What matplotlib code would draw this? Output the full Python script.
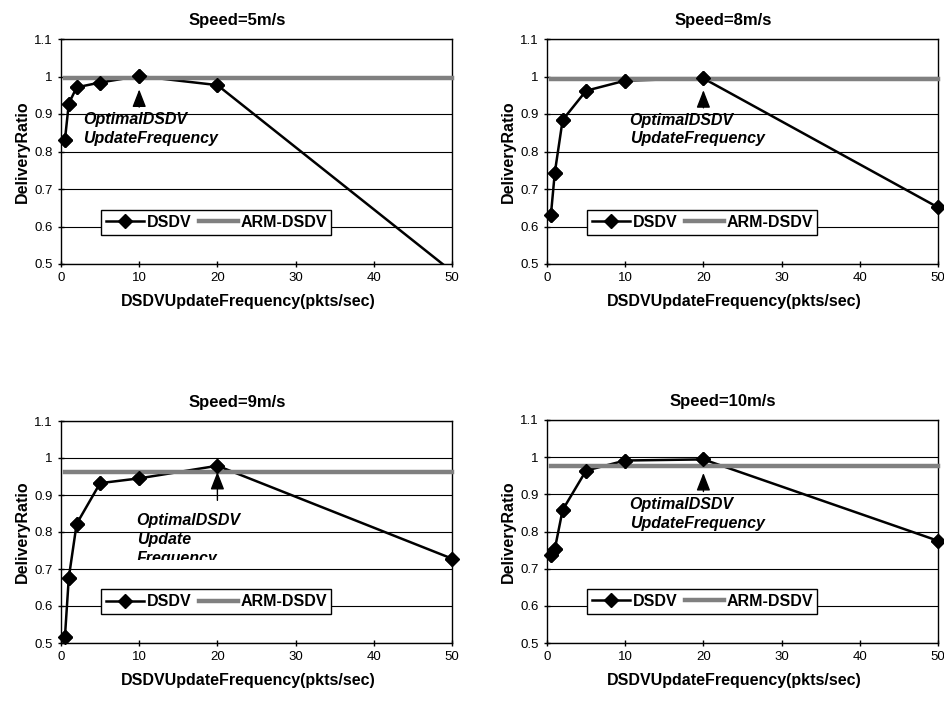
import matplotlib
matplotlib.use("Agg")
import matplotlib.pyplot as plt
import numpy as np
from matplotlib.patches import Rectangle
from matplotlib.ticker import FuncFormatter

plt.rcParams['font.family'] = ['Liberation Sans', 'DejaVu Sans']

# datos
freq = [0.5, 1, 2, 5, 10, 20, 50]

titles = ["Speed=5m/s", "Speed=8m/s", "Speed=9m/s", "Speed=10m/s"]

dsdv_5 = [0.831, 0.928, 0.971, 0.984, 1.001, 0.977, 0.480]
dsdv_8 = [0.631, 0.744, 0.884, 0.962, 0.989, 0.995, 0.651]
dsdv_9 = [0.516, 0.677, 0.822, 0.932, 0.945, 0.979, 0.728]
dsdv_10 = [0.737, 0.753, 0.858, 0.964, 0.991, 0.994, 0.775]

arm_5 = [0.996, 0.996, 0.996, 0.996, 0.996, 0.996, 0.996]
arm_8 = [0.994, 0.994, 0.994, 0.994, 0.994, 0.994, 0.994]
arm_9 = [0.963, 0.963, 0.963, 0.963, 0.963, 0.963, 0.963]
arm_10 = [0.977, 0.977, 0.977, 0.977, 0.977, 0.977, 0.977]

# frecuencia optima marcada con flecha
optimal = [10, 20, 20, 20]
note_text = ["OptimalDSDV\nUpdateFrequency", "OptimalDSDV\nUpdateFrequency",
             "OptimalDSDV\nUpdate\nFrequency", "OptimalDSDV\nUpdateFrequency"]

dsdv_all = [dsdv_5, dsdv_8, dsdv_9, dsdv_10]
arm_all = [arm_5, arm_8, arm_9, arm_10]

# posiciones de ejes (px): izquierda, arriba, abajo
W, H = 945, 702
boxes = [(61, 39, 264), (547, 39, 264), (61, 421, 643), (547, 420, 643)]
arrow_y = [(0.911, 0.973), (0.909, 0.971), (0.878, 0.970), (0.900, 0.965)]
note_xy = [(2.8, 0.905), (10.57, 0.903), (9.67, 0.850), (10.57, 0.893)]

fig = plt.figure(figsize=(W / 100, H / 100), dpi=100)

for i in range(4):
    left, top, bottom = boxes[i]
    ax = fig.add_axes([left / W, 1 - bottom / H, 391 / W, (bottom - top) / H])
    y = dsdv_all[i]

    # la linea se recorta en el borde, los marcadores no
    ax.plot(freq, y, color='black', lw=1.8, marker='D', ms=7.5,
            label='DSDV', zorder=2, clip_on=True)
    ax.plot(freq, arm_all[i], color='#808080', lw=3.2, label='ARM-DSDV',
            zorder=3, clip_on=False)
    ax.plot(freq, np.ma.masked_less(y, 0.5), color='black', lw=0, marker='D',
            ms=7.5, zorder=4, clip_on=False)

    ax.set_xlim(0, 50)
    ax.set_ylim(0.5, 1.1)
    ax.set_xticks([0, 10, 20, 30, 40, 50])
    ax.set_yticks([0.5, 0.6, 0.7, 0.8, 0.9, 1.0, 1.1])
    ax.yaxis.set_major_formatter(FuncFormatter(lambda v, p: f"{v:g}"))
    ax.tick_params(direction='inout', length=4, width=1, labelsize=9.5,
                   pad=4, colors='black')
    ax.yaxis.grid(True, color='black', lw=0.8)
    ax.set_axisbelow(True)
    for s in ax.spines.values():
        s.set_color('black')
        s.set_linewidth(1.0)

    ax.set_title(titles[i], x=0.45, pad=10, fontsize=12, fontweight='bold')
    ax.set_xlabel("DSDVUpdateFrequency(pkts/sec)", x=0.48, fontsize=11.5,
                  fontweight='bold', labelpad=7)
    ax.set_ylabel("DeliveryRatio", fontsize=11.5, fontweight='bold',
                  labelpad=3)

    ax.annotate("", xy=(optimal[i], arrow_y[i][1]),
                xytext=(optimal[i], arrow_y[i][0]),
                arrowprops=dict(arrowstyle='-|>,head_width=0.35,head_length=0.9',
                                mutation_scale=12, color='black', lw=1),
                zorder=5)
    t = ax.text(note_xy[i][0], note_xy[i][1], note_text[i], fontsize=11.5,
                fontweight='bold', style='italic', va='top', ha='left',
                linespacing=1.3, zorder=5)
    if i == 2:
        t.set_clip_path(Rectangle((0, 0.723), 50, 0.5, transform=ax.transData))
        t.set_clip_on(True)

    leg = ax.legend(loc='lower left', bbox_to_anchor=(0.103, 0.131), ncol=2,
                    prop={'weight': 'bold', 'size': 11.5},
                    handlelength=2.4, handletextpad=0.15, columnspacing=0.5,
                    borderpad=0.3, borderaxespad=0, numpoints=1,
                    fancybox=False, framealpha=1, edgecolor='black')
    leg.get_frame().set_linewidth(1.0)

fig.savefig("out.png", dpi=100)
